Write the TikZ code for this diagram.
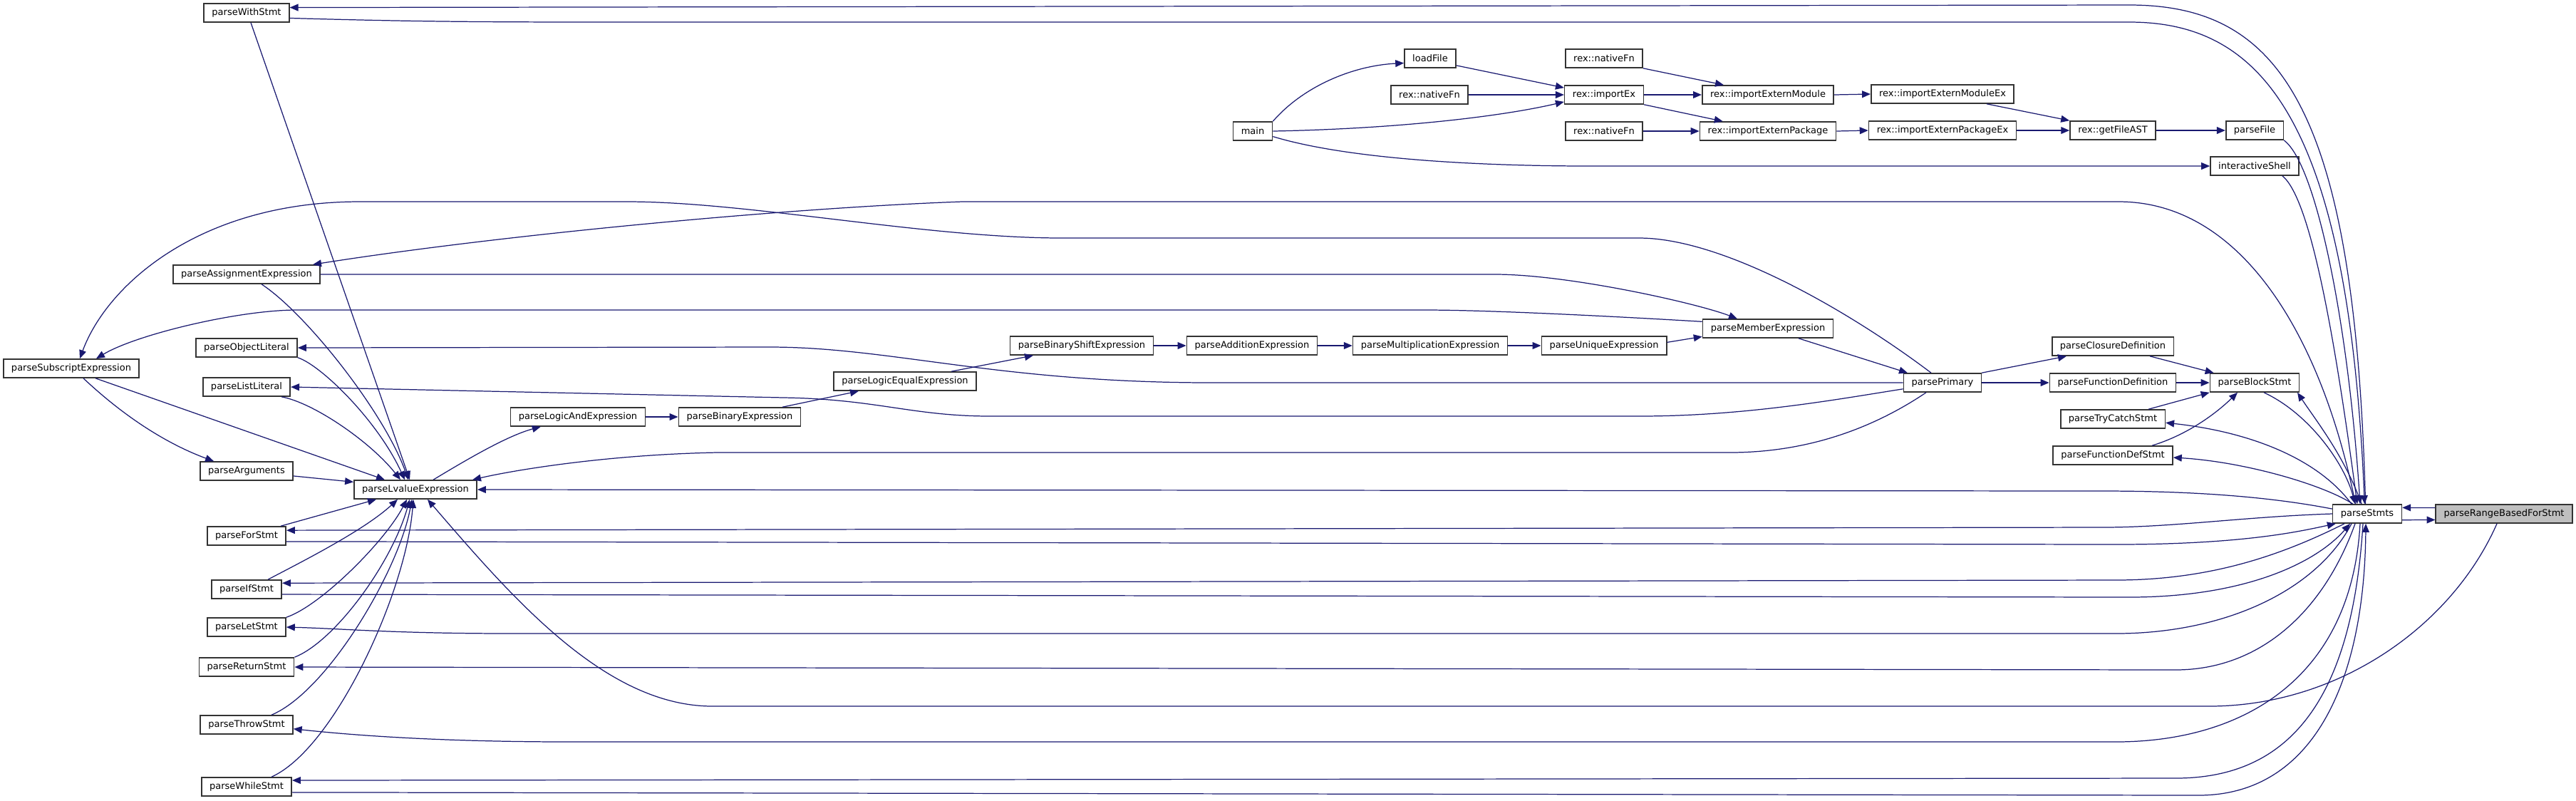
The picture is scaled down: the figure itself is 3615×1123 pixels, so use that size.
\documentclass[tikz,border=0pt]{standalone}
\usepackage{fontspec}
\usepackage{tikz}
\usetikzlibrary{arrows.meta}
\newfontfamily\dejavu{DejaVu Sans}
\definecolor{callblue}{HTML}{191970}

\begin{document}
\begin{tikzpicture}[x=0.01cm,y=-0.01cm,>={Triangle[length=3.4pt,width=2.8pt]},
  fn/.style={draw=black!80,line width=0.45pt,fill=white,font={\dejavu\fontsize{3.7}{4.4}\selectfont},inner xsep=3.2pt,inner ysep=0pt,minimum height=7.4pt},
  focus/.style={fn,fill=black!25},
  call/.style={->,draw=callblue,line width=0.35pt}]
\useasboundingbox (0,0) rectangle (3615,1123);
% left column
\node[fn] (with) at (346,18) {parseWithStmt};
\node[fn] (assign) at (346,385) {parseAssignmentExpression};
\node[fn] (obj) at (346,488) {parseObjectLiteral};
\node[fn] (subs) at (100,517) {parseSubscriptExpression};
\node[fn] (list) at (346,543) {parseListLiteral};
\node[fn] (args) at (346,661) {parseArguments};
\node[fn] (lval) at (583,687) {parseLvalueExpression};
\node[fn] (forst) at (346,752) {parseForStmt};
\node[fn] (ifst) at (346,827) {parseIfStmt};
\node[fn] (letst) at (346,880) {parseLetStmt};
\node[fn] (retst) at (346,936) {parseReturnStmt};
\node[fn] (throwst) at (346,1017) {parseThrowStmt};
\node[fn] (whilest) at (346,1104) {parseWhileStmt};
% expression chain
\node[fn] (land) at (811,585) {parseLogicAndExpression};
\node[fn] (bin) at (1038,585) {parseBinaryExpression};
\node[fn] (leq) at (1270,535) {parseLogicEqualExpression};
\node[fn] (shift) at (1518,485) {parseBinaryShiftExpression};
\node[fn] (add) at (1757,485) {parseAdditionExpression};
\node[fn] (mul) at (2007,485) {parseMultiplicationExpression};
\node[fn] (uniq) at (2251,485) {parseUniqueExpression};
\node[fn] (member) at (2481,461) {parseMemberExpression};
\node[fn] (primary) at (2726,537) {parsePrimary};
% top
\node[fn] (main) at (1758,184) {main};
\node[fn] (load) at (2007,82) {loadFile};
\node[fn] (nat1) at (2251,82) {rex::nativeFn};
\node[fn] (nat2) at (2006,133) {rex::nativeFn};
\node[fn] (imp) at (2251,133) {rex::importEx};
\node[fn] (nat3) at (2251,184) {rex::nativeFn};
\node[fn] (extmod) at (2481,133) {rex::importExternModule};
\node[fn] (extpkg) at (2481,184) {rex::importExternPackage};
\node[fn] (extmodex) at (2726,132) {rex::importExternModuleEx};
\node[fn] (extpkgex) at (2726,183) {rex::importExternPackageEx};
\node[fn] (ast) at (2965,183) {rex::getFileAST};
\node[fn] (file) at (3164,183) {parseFile};
\node[fn] (shell) at (3164,233) {interactiveShell};
% right
\node[fn] (closure) at (2965,486) {parseClosureDefinition};
\node[fn] (funcdef) at (2965,537) {parseFunctionDefinition};
\node[fn] (block) at (3164,537) {parseBlockStmt};
\node[fn] (trycatch) at (2965,588) {parseTryCatchStmt};
\node[fn] (fdefstmt) at (2965,639) {parseFunctionDefStmt};
\node[fn] (stmts) at (3322,721) {parseStmts};
\node[focus] (range) at (3514,721) {parseRangeBasedForStmt};

% top calls
\draw[call] (main.north east) .. controls (1830,120) and (1900,92) .. (load.190);
\draw[call] (main.east) .. controls (1950,181) and (2100,165) .. (imp.190);
\draw[call] (main.345) .. controls (1900,226) and (2100,233) .. (2230,233) -- (shell.west);
\draw[call] (load.345) -- (imp.170);
\draw[call] (nat2.east) -- (imp.west); \draw[call] (imp.east) -- (extmod.west);
\draw[call] (imp.south east) -- ([xshift=0.33cm]extpkg.north west);
\draw[call] (nat1.south east) -- ([xshift=0.31cm]extmod.north west);
\draw[call] (nat3.east) -- (extpkg.west);
\draw[call] (extmod.east) -- (extmodex.west); \draw[call] (extpkg.east) -- (extpkgex.west);
\draw[call] ([xshift=0.62cm]extmodex.south) -- (ast.north west);
\draw[call] (extpkgex.east) -- (ast.west); \draw[call] (ast.east) -- (file.west);
\draw[call] (file.south east) .. controls (3250,230) and (3295,450) .. ([xshift=-0.1cm]stmts.north);
\draw[call] ([xshift=-0.24cm]shell.south east) .. controls (3245,280) and (3280,500) .. ([xshift=-0.14cm]stmts.north);
% parseWithStmt
\draw[call] (stmts.100) .. controls (3305,150) and (3200,7) .. (2988,7) -- (with.7);
\draw[call] (with.353) .. controls (600,31) and (700,31) .. (900,31) -- (2988,31) .. controls (3170,31) and (3295,160) .. (stmts.105);
\draw[call] ([xshift=0.06cm]with.south) -- ([xshift=-0.08cm]lval.north);
% into parseLvalueExpression
\draw[call] ([xshift=0.34cm]subs.south) -- ([xshift=-0.43cm]lval.north);
\draw[call] ([xshift=0.17cm]subs.south) .. controls (180,590) and (240,625) .. ([xshift=0.2cm]args.north west);
\draw[call] (args.354) -- (lval.173);
\draw[call] ([xshift=0.21cm]assign.south) .. controls (430,440) and (540,580) .. ([xshift=-0.1cm]lval.north);
\draw[call] (obj.south east) .. controls (450,512) and (530,590) .. ([xshift=-0.15cm]lval.north);
\draw[call] ([xshift=0.49cm]list.south) .. controls (440,565) and (520,620) .. ([xshift=-0.21cm]lval.north);
\draw[call] ([xshift=-0.08cm]forst.north east) -- ([xshift=-0.55cm]lval.south);
\draw[call] ([xshift=0.3cm]ifst.north) .. controls (420,790) and (510,745) .. ([xshift=-0.25cm]lval.south);
\draw[call] (letst.north east) .. controls (450,850) and (540,760) .. ([xshift=-0.12cm]lval.south);
\draw[call] (retst.north east) .. controls (470,900) and (550,790) .. ([xshift=-0.08cm]lval.south);
\draw[call] ([xshift=0.35cm]throwst.north) .. controls (460,970) and (560,800) .. ([xshift=-0.05cm]lval.south);
\draw[call] ([xshift=0.35cm]whilest.north) .. controls (470,1050) and (570,830) .. ([xshift=-0.03cm]lval.south);
\draw[call] ([xshift=-0.1cm]range.south) .. controls (3440,880) and (3280,991) .. (3100,991) -- (1000,991) .. controls (850,991) and (720,840) .. ([xshift=0.17cm]lval.south);
\draw[call] (stmts.172) .. controls (3200,700) and (3100,689) .. (2950,689) -- (lval.east);
\draw[call] ([xshift=-0.23cm]primary.south) .. controls (2600,620) and (2500,635) .. (2427,635) -- (1006,635) .. controls (850,638) and (720,660) .. ([xshift=0.8cm]lval.north);
\draw[call] ([xshift=0.25cm]lval.north) .. controls (650,648) and (710,612) .. ([xshift=0.43cm]land.south west);
% expression chain
\draw[call] (land.east) -- (bin.west);
\draw[call] ([xshift=0.6cm]bin.north) -- ([xshift=-0.65cm]leq.south);
\draw[call] ([xshift=0.65cm]leq.north) -- ([xshift=-0.68cm]shift.south);
\draw[call] (shift.east) -- (add.west); \draw[call] (add.east) -- (mul.west); \draw[call] (mul.east) -- (uniq.west);
\draw[call] (uniq.3) -- (member.187);
\draw[call] ([xshift=0.43cm]member.south) -- ([xshift=-0.49cm]primary.north);
\draw[call] (assign.east) -- (2098,385) .. controls (2200,385) and (2380,425) .. ([xshift=-0.43cm]member.north);
\draw[call] (member.174) .. controls (2300,446) and (2100,435) .. (2000,435) -- (413,435) .. controls (330,436) and (190,470) .. ([xshift=0.35cm]subs.north);
\draw[call] ([xshift=-0.16cm]primary.north) .. controls (2600,440) and (2420,334) .. (2300,334) -- (1490,334) .. controls (1300,334) and (1050,283) .. (880,283) -- (505,283) .. controls (280,283) and (150,400) .. ([xshift=0.12cm]subs.north);
\draw[call] (stmts.140) .. controls (3260,480) and (3150,283) .. (2973,283) -- (1350,283) .. controls (1100,292) and (700,330) .. ([xshift=0.93cm]assign.north);
\draw[call] (primary.west) -- (1700,537) .. controls (1400,537) and (1250,487) .. (1080,487) -- (obj.east);
\draw[call] (primary.189) .. controls (2580,560) and (2450,584) .. (2300,584) -- (1390,584) .. controls (1280,584) and (1230,560) .. (1100,558) -- (list.east);
% statements
\draw[call] (stmts.west) .. controls (3150,725) and (3050,740) .. (2950,740) -- (forst.8);
\draw[call] (forst.352) -- (2969,764) .. controls (3150,764) and (3230,745) .. ([xshift=0.05cm]stmts.south west);
\draw[call] ([xshift=-0.32cm]stmts.south) .. controls (3200,780) and (3100,814) .. (2969,814) -- (ifst.10);
\draw[call] (ifst.352) -- (2988,838) .. controls (3150,838) and (3250,790) .. ([xshift=-0.24cm]stmts.south);
\draw[call] ([xshift=-0.22cm]stmts.south) .. controls (3250,830) and (3120,889) .. (2969,889) -- (720,889) .. controls (550,889) and (480,882) .. (letst.east);
\draw[call] ([xshift=-0.17cm]stmts.south) .. controls (3260,860) and (3170,940) .. (3053,940) -- (retst.east);
\draw[call] ([xshift=-0.1cm]stmts.south) .. controls (3300,950) and (3150,1041) .. (2969,1041) -- (800,1041) .. controls (600,1041) and (480,1030) .. (throwst.355);
\draw[call] ([xshift=-0.06cm]stmts.south) .. controls (3300,1000) and (3200,1092) .. (3053,1092) -- (whilest.8);
\draw[call] (whilest.353) -- (3085,1116) .. controls (3250,1116) and (3318,950) .. ([xshift=-0.02cm]stmts.south);
% right cluster
\draw[call] ([xshift=0.55cm]primary.north) -- ([xshift=-0.65cm]closure.south);
\draw[call] (primary.east) -- (funcdef.west);
\draw[call] ([xshift=0.52cm]closure.south) -- ([xshift=0.06cm]block.north west);
\draw[call] (funcdef.east) -- (block.west);
\draw[call] ([xshift=0.5cm]trycatch.north) -- (block.south west);
\draw[call] ([xshift=0.55cm]fdefstmt.north) .. controls (3070,610) and (3110,580) .. ([xshift=-0.24cm]block.south);
\draw[call] ([xshift=0.13cm]block.south) .. controls (3240,580) and (3290,650) .. ([xshift=-0.17cm]stmts.north);
\draw[call] ([xshift=-0.08cm]stmts.north) .. controls (3290,640) and (3250,590) .. ([xshift=0.6cm]block.south);
\draw[call] ([xshift=-0.22cm]stmts.north) .. controls (3250,640) and (3150,605) .. (trycatch.356);
\draw[call] ([xshift=-0.2cm]stmts.north) .. controls (3260,680) and (3150,648) .. (fdefstmt.358);
\draw[call] (range.175) -- (stmts.10);
\draw[call] (stmts.350) -- (range.185);
\end{tikzpicture}
\end{document}
